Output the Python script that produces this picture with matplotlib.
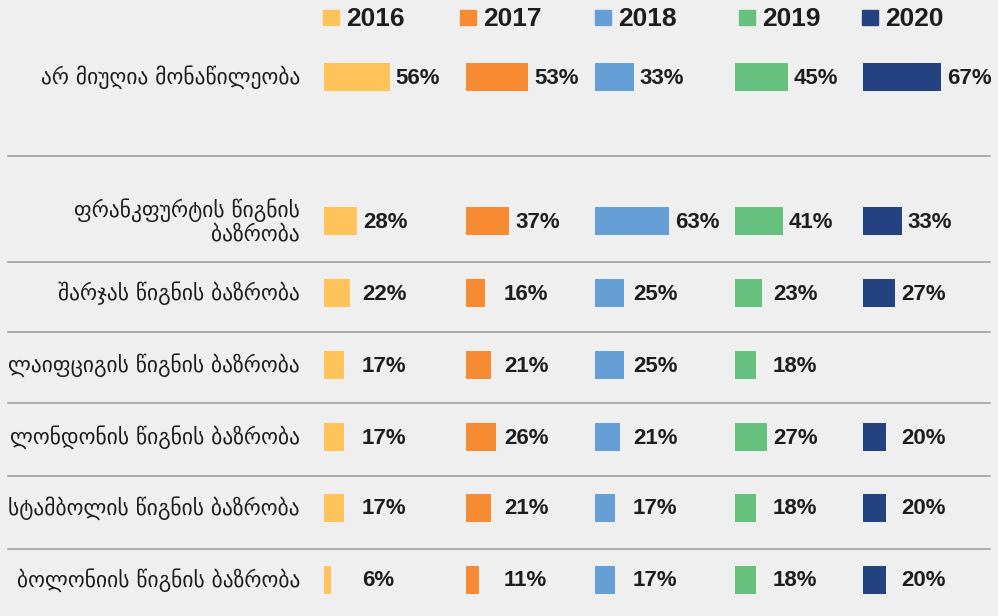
import matplotlib.pyplot as plt
import numpy as np

# data
years = ['2016', '2017', '2018', '2019', '2020']
categories = [
    'არ მიუღია მონაწილეობა',
    'ფრანკფურტის წიგნის\nბაზრობა',
    'შარჯას წიგნის ბაზრობა',
    'ლაიფციგის წიგნის ბაზრობა',
    'ლონდონის წიგნის ბაზრობა',
    'სტამბოლის წიგნის ბაზრობა',
    'ბოლონიის წიგნის ბაზრობა',
]
v2016 = [56, 28, 22, 17, 17, 17, 6]
v2017 = [53, 37, 16, 21, 26, 21, 11]
v2018 = [33, 63, 25, 25, 21, 17, 17]
v2019 = [45, 41, 23, 18, 27, 18, 18]
v2020 = [67, 33, 27, np.nan, 20, 20, 20]
series = [v2016, v2017, v2018, v2019, v2020]

colors = ['#FEC35A', '#F68B33', '#659FD6', '#66C17F', '#23427F']
text_color = '#1F1C1D'

# layout (pixel coordinates)
W, H = 998, 616
col_x = [324, 466, 595, 735, 863]
legend_x = [323, 460, 595, 739, 862]
row_y = [77, 221, 293, 365, 437, 508, 580]
sep_y = [156, 262, 332, 403, 476, 549]
px_per_pct = 1.17
bar_h = 28

fig = plt.figure(figsize=(W / 100, H / 100), dpi=100)
fig.patch.set_facecolor('#EFEFEF')
ax = fig.add_axes([0, 0, 1, 1])
ax.set_facecolor('#EFEFEF')
ax.set_xlim(0, W)
ax.set_ylim(H, 0)
ax.axis('off')

# separators
for y in sep_y:
    ax.plot([8, 990], [y, y], color='#9A9A9A', lw=1.1)

# bars + labels
for j, vals in enumerate(series):
    vals = np.array(vals, dtype=float)
    ok = ~np.isnan(vals)
    ys = np.array(row_y)[ok]
    ax.barh(ys, vals[ok] * px_per_pct, left=col_x[j], height=bar_h,
            color=colors[j], edgecolor='none')
    for y, v in zip(ys, vals[ok]):
        end = col_x[j] + v * px_per_pct
        tx = max(col_x[j] + 38, end + 6)
        ax.text(tx, y + 1, f'{int(v)}%', ha='left', va='center',
                fontsize=16, fontweight='bold', color=text_color,
                family='Liberation Sans')

# category labels
for y, lab in zip(row_y, categories):
    ax.text(300, y, lab, ha='right', va='center', fontsize=15.5,
            color=text_color, family='DejaVu Sans', linespacing=1.15,
            multialignment='right')

# legend
for j, yr in enumerate(years):
    ax.add_patch(plt.Rectangle((legend_x[j], 10), 16, 15, color=colors[j]))
    ax.text(legend_x[j] + 23, 19, yr, ha='left', va='center',
            fontsize=19, fontweight='bold', color=text_color,
            family='Liberation Sans')

fig.savefig('out.png', dpi=100, facecolor=fig.get_facecolor())
